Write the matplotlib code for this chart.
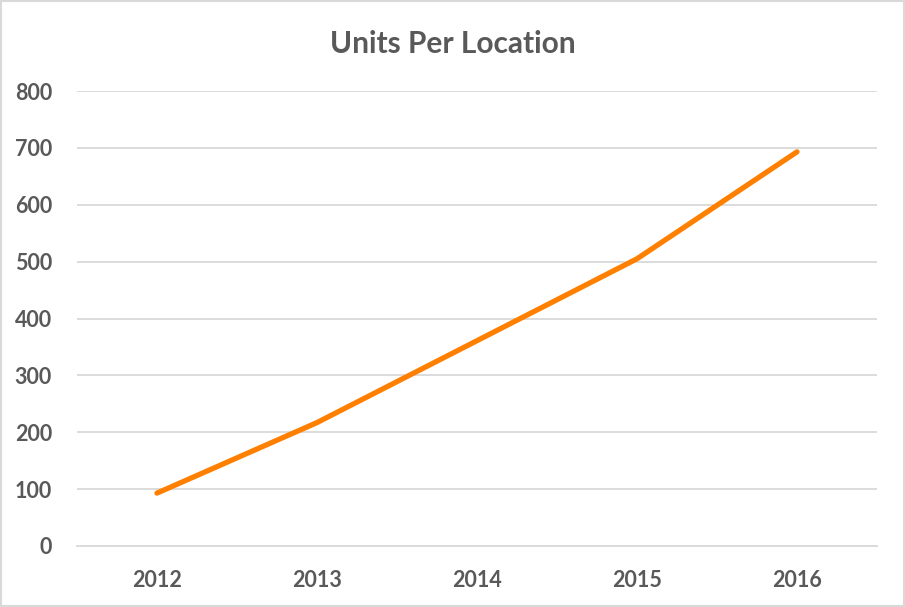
import matplotlib.pyplot as plt

years = ['2012', '2013', '2014', '2015', '2016']
units = [93, 217, 361, 505, 693]

plt.rcParams['font.family'] = ['Lato', 'DejaVu Sans']
text_color = '#595959'

fig = plt.figure(figsize=(9.05, 6.07), dpi=100)
ax = fig.add_axes([77 / 905, 1 - 546 / 607, 800 / 905, 455 / 607])

ax.plot(range(len(years)), units, color='#ff8000', linewidth=3.8,
        solid_capstyle='round', zorder=3)

ax.set_xlim(-0.5, len(years) - 0.5)
ax.set_ylim(0, 800)
ax.set_yticks(range(0, 801, 100))
ax.set_xticks(range(len(years)))
ax.set_xticklabels(years)
ax.grid(axis='y', color='#d9d9d9', linewidth=1.3)
ax.set_axisbelow(True)
for s in ['top', 'right', 'left']:
    ax.spines[s].set_visible(False)
ax.spines['bottom'].set_color('#d9d9d9')
ax.spines['bottom'].set_linewidth(1.3)
ax.tick_params(length=0, labelsize=15.5, labelcolor=text_color)
for lbl in ax.get_xticklabels() + ax.get_yticklabels():
    lbl.set_fontweight('bold')
ax.tick_params(axis='y', pad=18)
ax.tick_params(axis='x', pad=17)

fig.text(0.5, 1 - 44 / 607, 'Units Per Location', ha='center', va='center',
         fontsize=21.5, fontweight='bold', color=text_color)

fig.patches.append(plt.Rectangle((0.001, 0.001), 0.998, 0.998, transform=fig.transFigure,
                                 fill=False, edgecolor='#d9d9d9', linewidth=1.5))

fig.savefig('out.png', dpi=100)
